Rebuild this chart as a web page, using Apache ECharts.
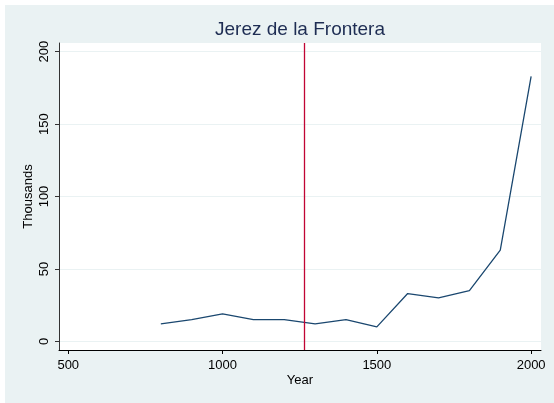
<!DOCTYPE html>
<html>
<head>
<meta charset="utf-8">
<script src="https://cdn.jsdelivr.net/npm/echarts@6/dist/echarts.min.js"></script>
<style>
    html, body { margin: 0; padding: 0; background: #fff; }
    #main { width: 554px; height: 403px; }
</style>
</head>
<body>
<div id="main"></div>
<script>
// population of Jerez de la Frontera, thousands
let years = [800, 900, 1000, 1100, 1200, 1300, 1400, 1500, 1600, 1700, 1800, 1900, 2000];
let thousands = [12, 15, 19, 15, 15, 12, 15, 10, 33, 30, 35, 63, 183];
let xTicks = [500, 1000, 1500, 2000];
let yTicks = [0, 50, 100, 150, 200];
let markYear = 1264;

let font = '"Liberation Sans", Arial, sans-serif';

let option = {
    animation: false,
    backgroundColor: '#fff',
    // outer stata-like panel
    graphic: [{
        type: 'rect',
        z: -10,
        silent: true,
        shape: { x: 5, y: 5, width: 549, height: 398 },
        style: { fill: '#eaf2f3' }
    }, {
        type: 'rect',
        z: -9,
        silent: true,
        shape: { x: 59, y: 43, width: 482, height: 307 },
        style: { fill: '#fff' }
    }],
    title: {
        text: 'Jerez de la Frontera',
        left: 300,
        top: 20,
        padding: 0,
        textAlign: 'center',
        textStyle: { fontFamily: font, fontSize: 19, fontWeight: 'normal', color: '#1e2d53' }
    },
    grid: { left: 59, top: 43, right: 13, bottom: 53 },
    xAxis: {
        type: 'value',
        min: 470,
        max: 2032,
        name: 'Year',
        nameLocation: 'middle',
        nameGap: 24,
        nameMoveOverlap: false,
        nameTextStyle: { fontFamily: font, fontSize: 13, color: '#000' },
        axisLine: { show: true, onZero: false, lineStyle: { color: '#000', width: 1 } },
        axisTick: { show: true, length: 4, customValues: xTicks, lineStyle: { color: '#000' } },
        axisLabel: { customValues: xTicks, margin: 9, formatter: v => String(v), fontFamily: font, fontSize: 13, color: '#000' },
        splitLine: { show: false }
    },
    yAxis: {
        type: 'value',
        min: -6,
        max: 206,
        name: 'Thousands',
        nameLocation: 'middle',
        nameGap: 24,
        nameMoveOverlap: false,
        nameTextStyle: { fontFamily: font, fontSize: 13, color: '#000' },
        axisLine: { show: true, onZero: false, lineStyle: { color: '#333', width: 1 } },
        axisTick: { show: true, length: 4, customValues: yTicks, lineStyle: { color: '#333' } },
        axisLabel: { customValues: yTicks, rotate: 90, margin: 8, formatter: v => String(v), fontFamily: font, fontSize: 13, color: '#000' },
        splitLine: { show: true, lineStyle: { color: '#eaf2f3', width: 1 } }
    },
    series: [{
        type: 'line',
        data: years.map((y, i) => [y, thousands[i]]),
        showSymbol: false,
        lineStyle: { color: '#1a476f', width: 1.3 },
        markLine: {
            silent: true,
            symbol: 'none',
            label: { show: false },
            lineStyle: { color: '#c10534', width: 1.3, type: 'solid' },
            data: [{ xAxis: markYear }]
        }
    }]
};

echarts.init(document.getElementById('main')).setOption(option);
</script>
</body>
</html>
